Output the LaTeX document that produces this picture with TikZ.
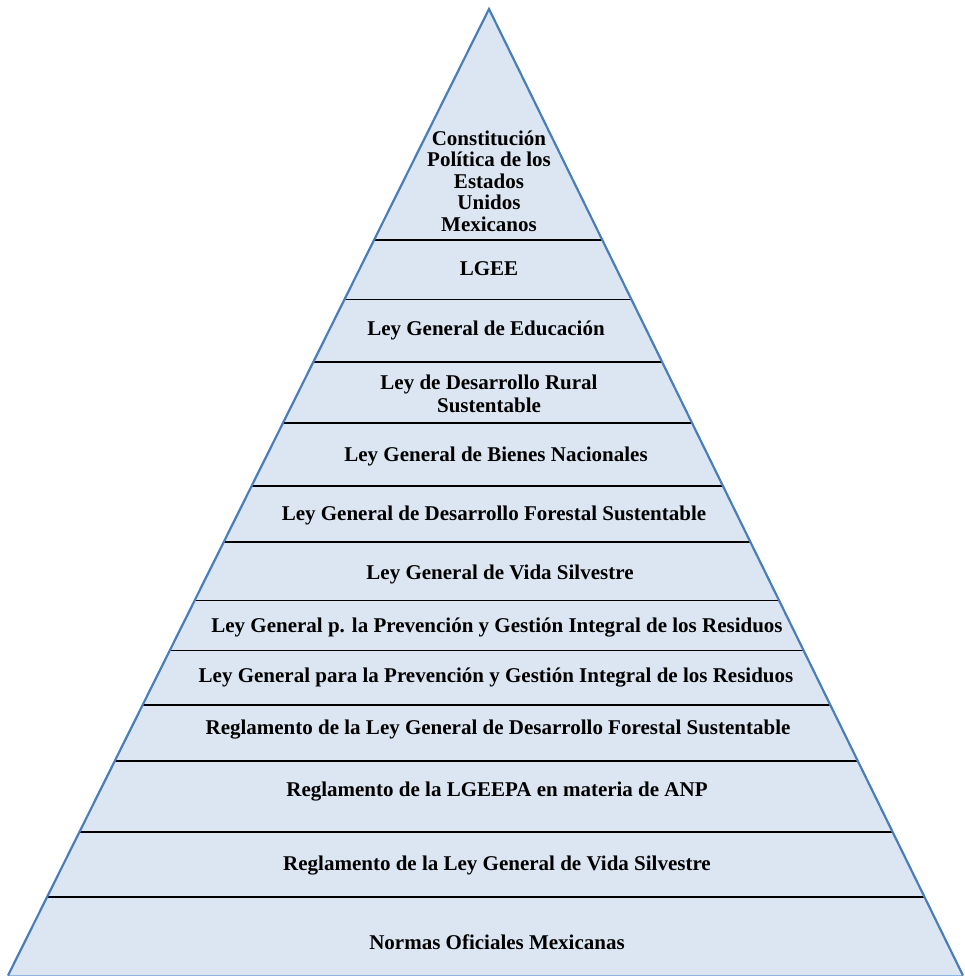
\documentclass[tikz,border=0pt]{standalone}
\usepackage{fontspec}
\setmainfont{Liberation Serif}[BoldFont={Liberation Serif Bold}]
\usetikzlibrary{calc}
\definecolor{pyrfill}{HTML}{DCE6F2}
\definecolor{pyredge}{HTML}{4A7EBB}
\definecolor{pyrbase}{HTML}{8EB4E3}
\tikzset{
  lbl/.style={font=\fontsize{21}{21.5}\selectfont\bfseries, align=center, inner sep=0pt, text=black},
  sep/.style={draw=black, line width=1.6pt},
}
\begin{document}
\begin{tikzpicture}[x=1pt,y=-1pt]
\useasboundingbox (0,0) rectangle (964,977);
\coordinate (A) at (489,9);
\coordinate (BL) at (8,975.5);
\coordinate (BR) at (963,975.5);
\fill[pyrfill] (A) -- (BL) -- (BR) -- cycle;
\foreach \yy in {240,299.5,362,423,486,542,600.5,650.5,705,761,832,897}{
  \draw[sep] ($(A)!{(\yy-9)/966.5}!(BL)$) -- ($(A)!{(\yy-9)/966.5}!(BR)$);
}
\draw[pyrbase, line width=1pt] (BL) -- (BR);
\draw[pyredge, line width=2.2pt, line join=miter] (BL) -- (A) -- (BR);
\node[lbl] (t1) at (489,181) {Constitución\\Política de los\\Estados\\Unidos\\Mexicanos};
\node[lbl] (t2) at (489,269) {LGEE};
\node[lbl] (t3) at (486,330) {Ley General de Educación};
\node[lbl] (t4) at (489,394) {Ley de Desarrollo Rural\\[1pt]Sustentable};
\node[lbl] (t5) at (496,456) {Ley General de Bienes Nacionales};
\node[lbl] (t6) at (494,515) {Ley General de Desarrollo Forestal Sustentable};
\node[lbl] (t7) at (500,574) {Ley General de Vida Silvestre};
\node[lbl] (t8) at (497,628) {Ley General p. la Prevención y Gestión Integral de los Residuos};
\node[lbl] (t9) at (496,678) {Ley General para la Prevención y Gestión Integral de los Residuos};
\node[lbl] (t10) at (498,730) {Reglamento de la Ley General de Desarrollo Forestal Sustentable};
\node[lbl] (t11) at (497,792) {Reglamento de la LGEEPA en materia de ANP};
\node[lbl] (t12) at (497,866) {Reglamento de la Ley General de Vida Silvestre};
\node[lbl] (t13) at (497,942) {Normas Oficiales Mexicanas};
\end{tikzpicture}
\end{document}
